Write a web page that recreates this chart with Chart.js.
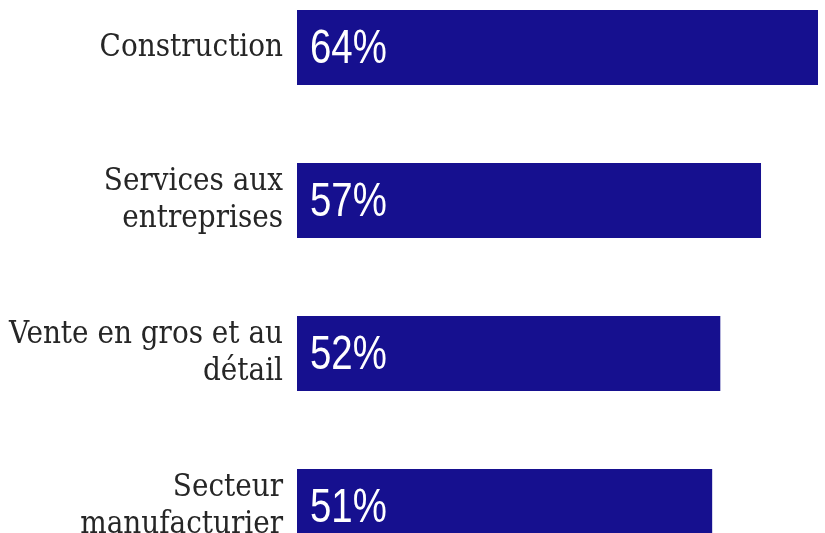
<!DOCTYPE html>
<html>
<head>
<meta charset="utf-8">
<script src="https://cdn.jsdelivr.net/npm/chart.js@4/dist/chart.umd.min.js"></script>
<style>
  html, body { margin: 0; padding: 0; background: #ffffff; overflow: hidden; width: 825px; height: 533px; }
  #wrap { position: absolute; left: 0; top: -29px; width: 825px; height: 612px; }
</style>
</head>
<body>
<div id="wrap"><canvas id="c" width="825" height="612"></canvas></div>
<script>
const categories = [
  ["Construction"],
  ["Services aux", "entreprises"],
  ["Vente en gros et au", "détail"],
  ["Secteur", "manufacturier"]
];
const values = [64, 57, 52, 51];
const valueLabels = ["64%", "57%", "52%", "51%"];

const barColor = "#16108f";

const insideLabels = {
  id: "insideLabels",
  afterDatasetsDraw(chart) {
    const ctx = chart.ctx;
    const meta = chart.getDatasetMeta(0);
    const sx = 0.8;
    meta.data.forEach((bar, i) => {
      ctx.save();
      ctx.fillStyle = "#ffffff";
      ctx.font = "48px 'Liberation Sans Narrow', 'Arial Narrow', 'Liberation Sans', Arial, sans-serif";
      ctx.textAlign = "left";
      ctx.textBaseline = "middle";
      ctx.translate(bar.base + 13, bar.y + 2);
      ctx.scale(sx, 1);
      ctx.fillText(valueLabels[i], 0, 0);
      ctx.restore();
    });
  }
};

new Chart(document.getElementById("c"), {
  type: "bar",
  data: {
    labels: categories,
    datasets: [{
      data: values,
      backgroundColor: barColor,
      borderWidth: 0,
      barPercentage: 0.49,
      categoryPercentage: 1.0
    }]
  },
  options: {
    indexAxis: "y",
    responsive: false,
    animation: false,
    devicePixelRatio: 1,
    layout: { padding: { left: 0, right: 7, top: 0, bottom: 0 } },
    plugins: {
      legend: { display: false },
      tooltip: { enabled: false },
      title: { display: false }
    },
    scales: {
      x: {
        display: false,
        min: 0,
        max: 64
      },
      y: {
        grid: { display: false, drawTicks: false, drawOnChartArea: false },
        border: { display: false },
        ticks: {
          color: "#262626",
          padding: 14,
          font: { family: "'DejaVu Serif Condensed', 'Liberation Serif', serif", size: 31, lineHeight: 1.2 }
        },
        afterFit(scale) {
          scale.width = 297;
          scale.paddingTop = 0;
          scale.paddingBottom = 0;
        }
      }
    }
  },
  plugins: [insideLabels]
});
</script>
</body>
</html>
